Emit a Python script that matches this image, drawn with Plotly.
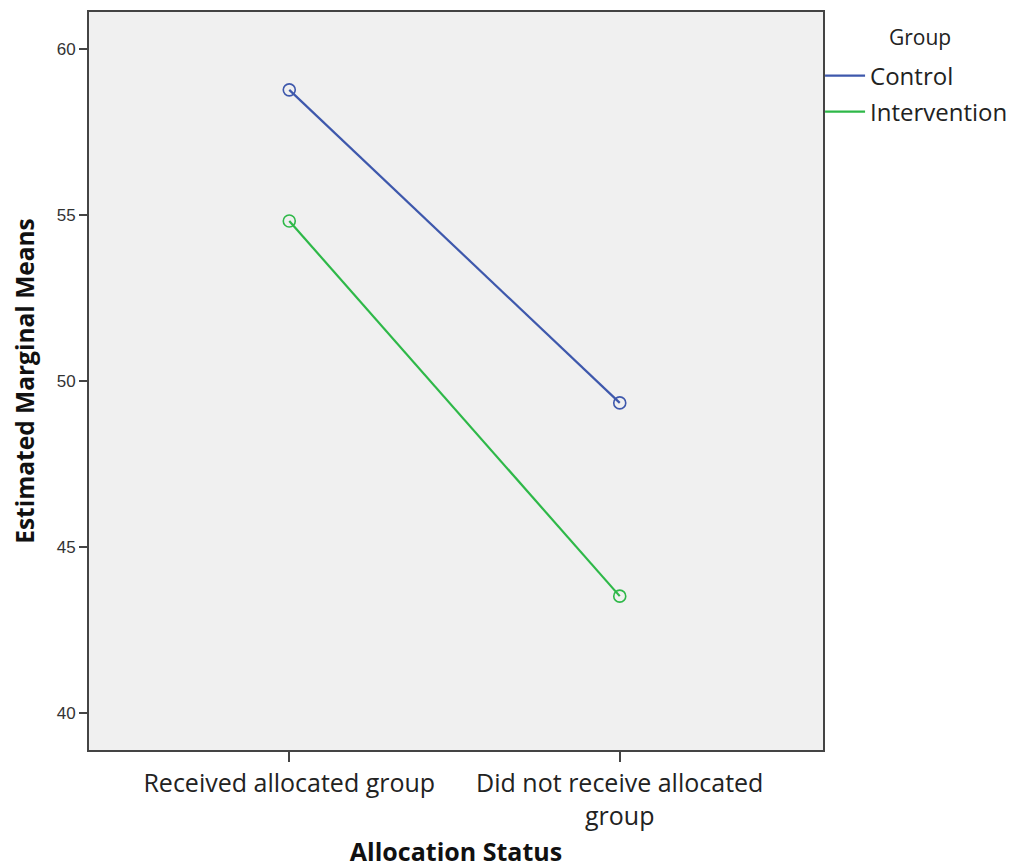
import plotly.graph_objects as go

categories = ["Received allocated group", "Did not receive allocated<br>group"]
groups = ["Control", "Intervention"]
control_means = [58.77, 49.34]
intervention_means = [54.82, 43.52]
y_ticks = [40, 45, 50, 55, 60]

colors = {"Control": "#3E58AC", "Intervention": "#2EB848"}
series = {"Control": control_means, "Intervention": intervention_means}
legend_ids = {"Control": "legend", "Intervention": "legend2"}

fig = go.Figure()
for g in groups:
    fig.add_trace(go.Scatter(
        x=[0, 1], y=series[g], name=g, mode="lines", legend=legend_ids[g],
        line=dict(color=colors[g], width=2.2), legendgroup=g,
    ))
    fig.add_trace(go.Scatter(
        x=[0, 1], y=series[g], name=g, mode="markers", showlegend=False, legendgroup=g,
        marker=dict(symbol="circle-open", size=12, color=colors[g], line=dict(width=1.6)),
    ))

leg_font = dict(family="Open Sans", size=24, color="#222")
fig.update_layout(
    width=1009, height=860,
    margin=dict(l=81, r=194, t=4, b=118, autoexpand=False),
    paper_bgcolor="white", plot_bgcolor="#F0F0F0",
    font=dict(family="Open Sans", color="#222222"),
    showlegend=True,
    legend=dict(x=0.996, xanchor="left", y=0.9133, yanchor="middle", font=leg_font,
                bgcolor="rgba(0,0,0,0)", itemwidth=40),
    legend2=dict(x=0.996, xanchor="left", y=0.8645, yanchor="middle", font=leg_font,
                 bgcolor="rgba(0,0,0,0)", itemwidth=40),
    annotations=[
        dict(text="Group", xref="paper", yref="paper", x=1.132, y=0.966,
             xanchor="center", yanchor="middle", showarrow=False,
             font=dict(family="Open Sans", size=21, color="#222")),
    ],
)
fig.update_xaxes(
    range=[-0.606, 1.615], tickmode="array", tickvals=[0, 1], ticktext=categories,
    showgrid=False, zeroline=False, showline=True, linecolor="#444", linewidth=2, mirror=True,
    ticks="outside", ticklen=10, tickwidth=1.5, tickcolor="#444", automargin=False,
    tickfont=dict(family="Open Sans", size=25, color="#222"),
    title=dict(text="<b>Allocation Status</b>", font=dict(family="Open Sans", size=25, color="#111"), standoff=26),
)
fig.update_yaxes(
    range=[38.885, 61.115], tickmode="array", tickvals=y_ticks,
    showgrid=False, zeroline=False, showline=True, linecolor="#444", linewidth=2, mirror=True,
    ticks="outside", ticklen=8, tickwidth=2, tickcolor="#444", automargin=False,
    tickfont=dict(family="Liberation Sans", size=17, color="#333"),
    title=dict(text="<b>Estimated Marginal Means</b>", font=dict(family="Open Sans", size=24.5, color="#111"), standoff=18),
)
fig.write_html("out.html")
